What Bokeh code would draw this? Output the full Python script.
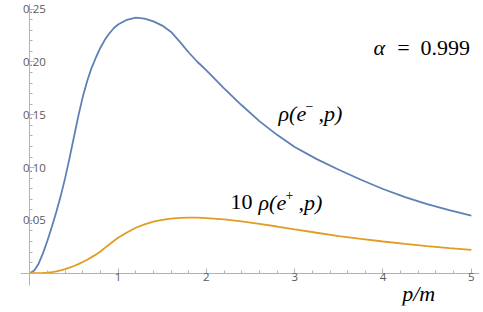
from bokeh.plotting import figure
from bokeh.models import FixedTicker, Label, Range1d, NumeralTickFormatter
from bokeh.embed import file_html
from bokeh.resources import INLINE

# ---- data ----
p_over_m = [0, 0.05, 0.1, 0.15, 0.2, 0.25, 0.3, 0.35, 0.4, 0.45, 0.5, 0.55, 0.6,
            0.65, 0.7, 0.75, 0.8, 0.85, 0.9, 0.95, 1.0, 1.1, 1.2, 1.3, 1.4, 1.5,
            1.6, 1.7, 1.8, 1.9, 2.0, 2.2, 2.4, 2.6, 2.8, 3.0, 3.25, 3.5, 3.75,
            4.0, 4.25, 4.5, 4.75, 5.0]
rho_electron = [0, 0.0025, 0.009, 0.019, 0.031, 0.044, 0.058, 0.073, 0.090,
                0.109, 0.129, 0.149, 0.167, 0.182, 0.1945, 0.2045, 0.2135,
                0.221, 0.227, 0.232, 0.2355, 0.240, 0.242, 0.241, 0.2385,
                0.2345, 0.2285, 0.219, 0.209, 0.200, 0.192, 0.175, 0.159,
                0.144, 0.131, 0.1195, 0.108, 0.098, 0.0885, 0.0797, 0.0720,
                0.0655, 0.0597, 0.0545]
rho_positron_x10 = [0, 0.0, 0.0001, 0.0003, 0.0006, 0.0011, 0.0018, 0.0027,
                    0.0038, 0.0052, 0.0068, 0.0086, 0.0106, 0.0128, 0.0152,
                    0.0178, 0.0205, 0.0240, 0.0272, 0.0304, 0.0335, 0.0385,
                    0.0430, 0.0463, 0.0488, 0.0505, 0.0517, 0.0524, 0.0527,
                    0.0526, 0.0522, 0.0509, 0.0490, 0.0466, 0.0442, 0.0415,
                    0.0383, 0.0352, 0.0325, 0.0300, 0.0277, 0.0256, 0.0238,
                    0.0221]
x_major_ticks = [1, 2, 3, 4, 5]
x_minor_ticks = [0.2, 0.4, 0.6, 0.8, 1.2, 1.4, 1.6, 1.8, 2.2, 2.4, 2.6, 2.8,
                 3.2, 3.4, 3.6, 3.8, 4.2, 4.4, 4.6, 4.8]
y_major_ticks = [0.05, 0.10, 0.15, 0.20, 0.25]
y_minor_ticks = [0.01, 0.02, 0.03, 0.04, 0.06, 0.07, 0.08, 0.09, 0.11, 0.12,
                 0.13, 0.14, 0.16, 0.17, 0.18, 0.19, 0.21, 0.22, 0.23, 0.24]

BLUE = "#5E81B5"
ORANGE = "#E19C24"
AXIS = "#b3b3b3"
LABEL = "#5a5a5a"
SERIF = "Liberation Serif"

p = figure(width=483, height=312, output_backend="svg", toolbar_location=None,
           title=None,
           x_range=Range1d(-0.1053, 5.093), y_range=Range1d(-0.0306, 0.2554),
           min_border_left=20, min_border_right=4, min_border_top=3,
           min_border_bottom=7)
p.outline_line_color = None
p.xgrid.visible = False
p.ygrid.visible = False
p.background_fill_color = "white"
p.border_fill_color = "white"

p.line(p_over_m, rho_electron, line_color=BLUE, line_width=1.8)
p.line(p_over_m, rho_positron_x10, line_color=ORANGE, line_width=1.8)

for ax in (p.xaxis[0], p.yaxis[0]):
    ax.fixed_location = 0
    ax.axis_line_color = AXIS
    ax.major_tick_line_color = AXIS
    ax.minor_tick_line_color = AXIS
    ax.major_tick_in = 5
    ax.major_tick_out = 0
    ax.minor_tick_in = 3
    ax.minor_tick_out = 0
    ax.major_label_text_color = LABEL
    ax.major_label_text_font = "Open Sans"
    ax.major_label_text_font_size = "11.5px"

p.yaxis.bounds = (-0.01165, 0.2554)
p.xaxis.ticker = FixedTicker(ticks=x_major_ticks, minor_ticks=x_minor_ticks)
p.yaxis.ticker = FixedTicker(ticks=y_major_ticks, minor_ticks=y_minor_ticks)
p.xaxis.formatter = NumeralTickFormatter(format="0")
p.yaxis.formatter = NumeralTickFormatter(format="0.00")
p.xaxis.major_label_standoff = 0
p.yaxis.major_label_standoff = -16


def lab(x, y, text, style="italic", size="22px"):
    p.add_layout(Label(x=x, y=y, text=text, text_font=SERIF,
                       text_font_style=style, text_font_size=size,
                       text_color="black", text_baseline="alphabetic",
                       text_align="left"))


# alpha = 0.999
lab(3.892, 0.2140, "\u03b1")
lab(4.161, 0.2140, "=\u20020.999", style="normal")
# rho(e-, p)
lab(2.817, 0.1517, "\u03c1(e")
lab(3.122, 0.1579, "\u2212", style="normal", size="14px")
lab(3.270, 0.1517, ",p)")
# 10 rho(e+, p)
lab(2.273, 0.0672, "10", style="normal")
lab(2.590, 0.0672, "\u03c1(e")
lab(2.896, 0.0736, "+", style="normal", size="14px")
lab(3.043, 0.0672, ",p)")
# axis label
lab(4.217, -0.0193, "p/m")

open("out.html", "w").write(file_html(p, INLINE))
